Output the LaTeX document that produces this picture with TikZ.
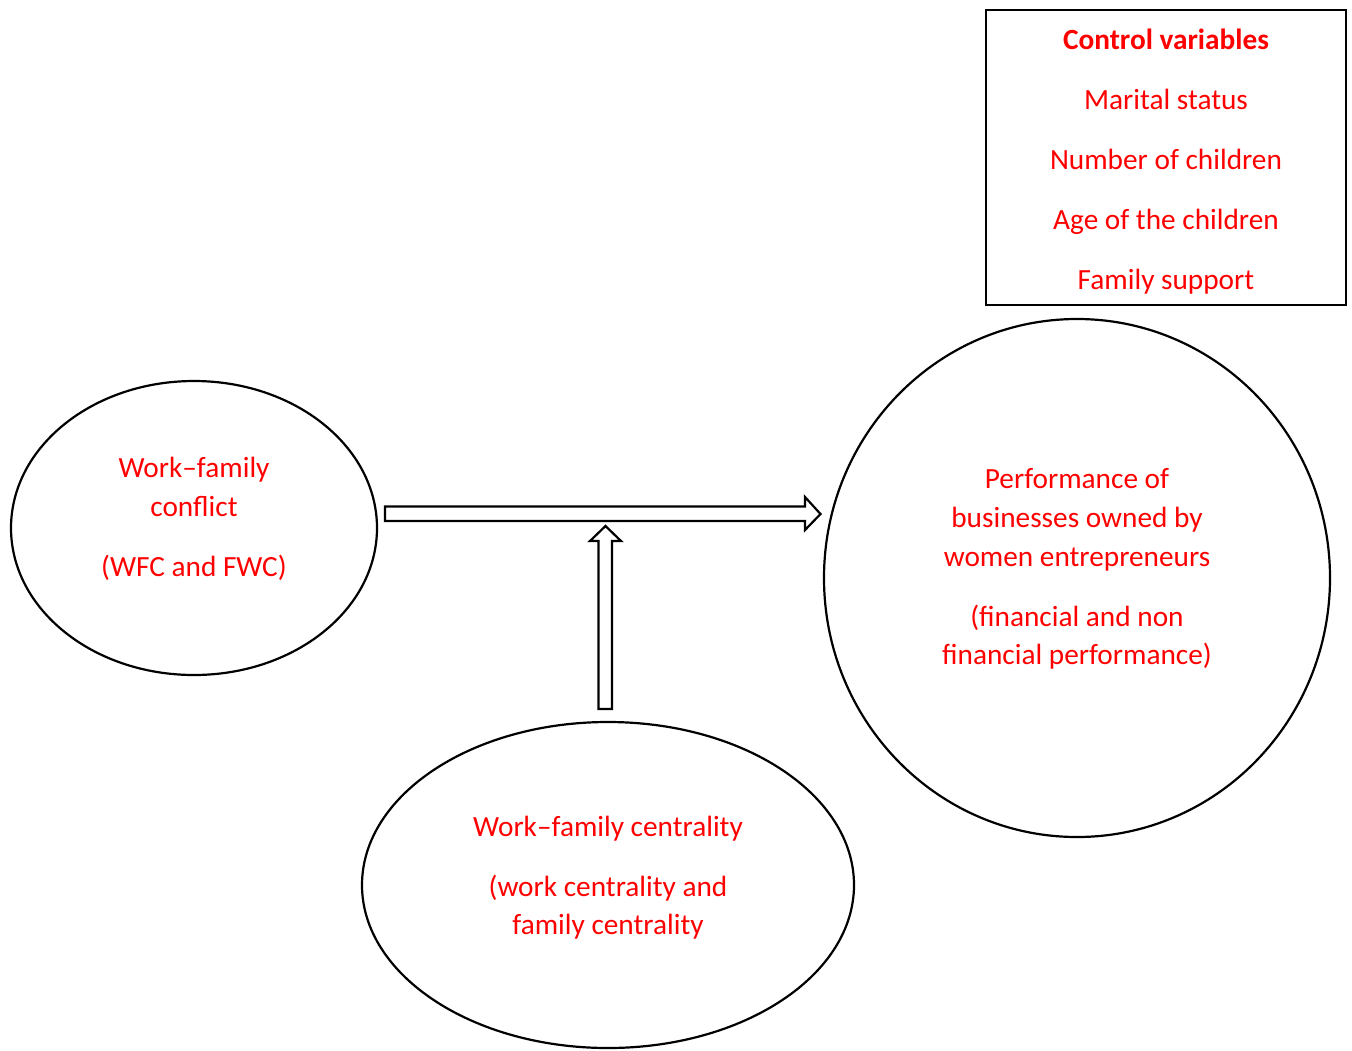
\documentclass[tikz,border=0pt]{standalone}
\usepackage{fontspec}
\setmainfont{Carlito}
\usetikzlibrary{shapes.geometric}
\begin{document}
\begin{tikzpicture}[x=1pt,y=-1pt,
  outline/.style={draw=black,line width=2.2pt},
  arrowbody/.style={draw=black,line width=2.2pt,fill=white,line join=miter},
  lbl/.style={text=red,font=\fontsize{29.3}{35}\selectfont,inner sep=0pt,anchor=base}]
\useasboundingbox (0,0) rectangle (1352,1050);
% shapes
\node[ellipse, outline, minimum width=366pt, minimum height=294pt, inner sep=0pt] (wfc) at (194,528) {};
\node[ellipse, outline, minimum width=492pt, minimum height=326pt, inner sep=0pt] (cent) at (608,885) {};
\node[ellipse, outline, minimum width=506pt, minimum height=518pt, inner sep=0pt] (perf) at (1077,578) {};
\node[rectangle, outline, minimum width=360pt, minimum height=295pt, inner sep=0pt] (ctrl) at (1166,157.5) {};
% block arrows
\draw[arrowbody] (385,506.5) -- (805,506.5) -- (805,497) -- (820.5,514) -- (805,530) -- (805,521) -- (385,521) -- cycle;
\draw[arrowbody] (598.5,709) -- (598.5,541) -- (590,541) -- (605.5,526) -- (621,541) -- (612,541) -- (612,709) -- cycle;
% control variables text
\node[lbl,font=\fontsize{29.3}{35}\selectfont\bfseries] (c0) at (1166,49) {Control variables};
\node[lbl] (c1) at (1166,109) {Marital status};
\node[lbl] (c2) at (1166,169) {Number of children};
\node[lbl] (c3) at (1166,229) {Age of the children};
\node[lbl] (c4) at (1166,289) {Family support};
% left ellipse text
\node[lbl] (w1) at (194,477) {Work–family};
\node[lbl] (w2) at (194,516) {conflict};
\node[lbl] (w3) at (194,576) {(WFC and FWC)};
% right circle text
\node[lbl] (p1) at (1077,488) {Performance of};
\node[lbl] (p2) at (1077,527) {businesses owned by};
\node[lbl] (p3) at (1077,566) {women entrepreneurs};
\node[lbl] (p4) at (1077,626) {(financial and non};
\node[lbl] (p5) at (1077,664) {financial performance)};
% bottom ellipse text
\node[lbl] (b1) at (608,836) {Work–family centrality};
\node[lbl] (b2) at (608,896) {(work centrality and};
\node[lbl] (b3) at (608,934) {family centrality};
\end{tikzpicture}
\end{document}
